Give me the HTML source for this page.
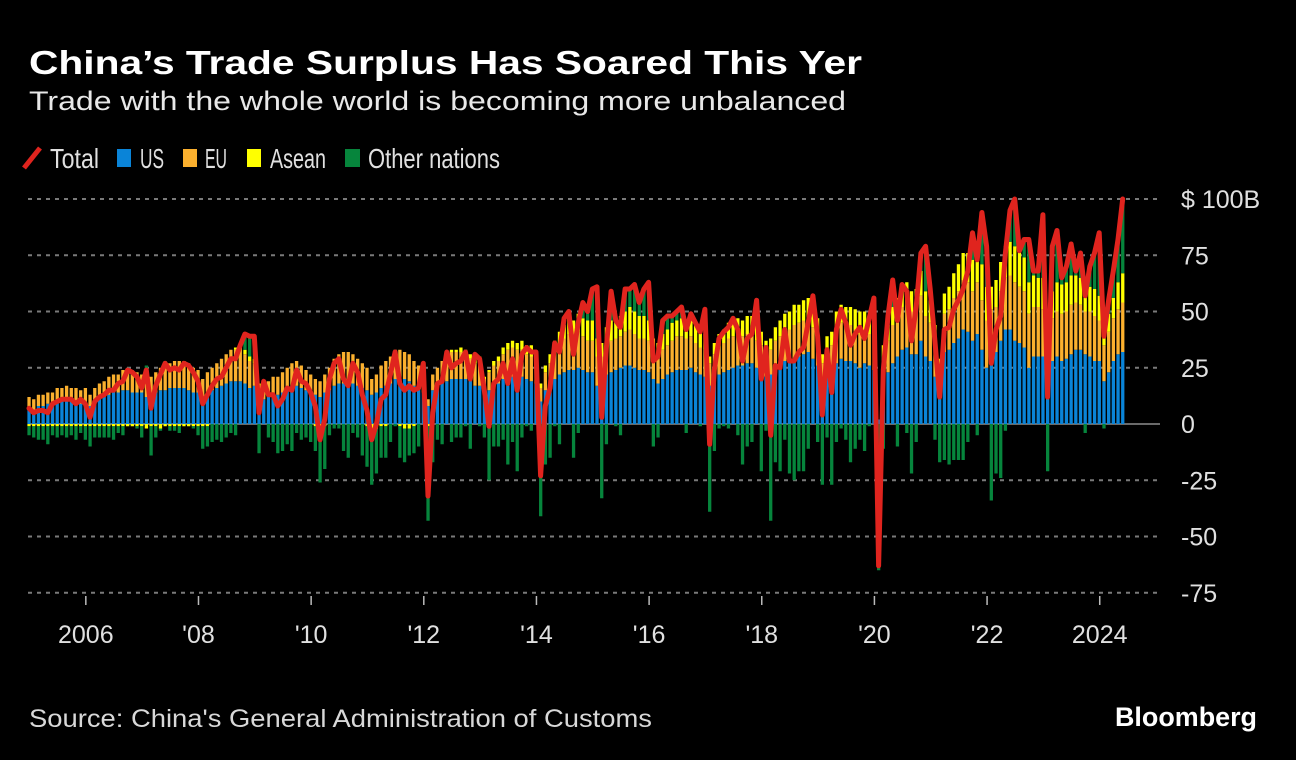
<!DOCTYPE html>
<html><head><meta charset="utf-8"><style>
html,body{margin:0;padding:0;background:#000;}
svg{display:block;font-family:"Liberation Sans",sans-serif;}
</style></head><body>
<svg id="chart" width="1296" height="760" viewBox="0 0 1296 760">
<rect x="0" y="0" width="1296" height="760" fill="#000"/>
<text x="29" y="74" fill="#fff" font-size="33" font-weight="bold" textLength="833" lengthAdjust="spacingAndGlyphs">China’s Trade Surplus Has Soared This Yer</text>
<text x="29" y="110" fill="#e8e8e8" font-size="27" textLength="817" lengthAdjust="spacingAndGlyphs">Trade with the whole world is becoming more unbalanced</text>
<g id="legend">
<g><line x1="24" y1="168" x2="40" y2="148" stroke="#e0241e" stroke-width="5"/><text x="50" y="168" fill="#e0e0e0" font-size="28" textLength="49" lengthAdjust="spacingAndGlyphs">Total</text></g>
<g><rect x="117" y="149" width="14" height="18" fill="#0a84d8"/><text x="140" y="168" fill="#e0e0e0" font-size="28" textLength="24" lengthAdjust="spacingAndGlyphs">US</text></g>
<g><rect x="183" y="149" width="14" height="18" fill="#fbb02e"/><text x="205" y="168" fill="#e0e0e0" font-size="28" textLength="22" lengthAdjust="spacingAndGlyphs">EU</text></g>
<g><rect x="247" y="149" width="14" height="18" fill="#ffff00"/><text x="270" y="168" fill="#e0e0e0" font-size="28" textLength="56" lengthAdjust="spacingAndGlyphs">Asean</text></g>
<g><rect x="345" y="149" width="15" height="18" fill="#06853c"/><text x="368" y="168" fill="#e0e0e0" font-size="28" textLength="132" lengthAdjust="spacingAndGlyphs">Other nations</text></g>
</g>
<g id="grid"></g>
<g id="bars"></g>
<g id="line"></g>
<g id="yaxis"></g>
<g id="xaxis"></g>
<text x="29" y="727" fill="#d8d8d8" font-size="25" textLength="623" lengthAdjust="spacingAndGlyphs">Source: China's General Administration of Customs</text>
<text x="1115" y="726" fill="#fff" font-size="27" font-weight="bold" textLength="142" lengthAdjust="spacingAndGlyphs">Bloomberg</text>
</svg>
<script>
var yTicks = [100, 75, 50, 25, 0, -25, -50, -75];
var yTickLabels = ["$ 100B", "75", "50", "25", "0", "-25", "-50", "-75"];
var xTickYears = [2006, 2008, 2010, 2012, 2014, 2016, 2018, 2020, 2022, 2024];
var xTickLabels = ["2006", "'08", "'10", "'12", "'14", "'16", "'18", "'20", "'22", "2024"];
var startYear = 2005;
var total = [
7,5,6,6,5,9,10,11,11,11,9,11,
9,3,10,12,13,15,15,18,19,24,23,21,
16,24,7,17,22,27,24,25,24,27,26,23,
19,9,13,17,20,21,25,29,29,35,40,39,
39,5,19,13,13,8,11,16,15,24,19,18,
14,8,-7,2,20,27,29,20,17,27,23,13,
6,-7,0,11,13,22,32,18,15,17,15,16,
27,-32,5,18,19,32,25,27,28,32,20,31,
29,15,-1,18,20,27,18,29,15,31,34,32,
32,-23,8,16,36,32,47,50,31,45,54,50,
60,61,3,34,59,46,43,60,60,62,54,60,
63,28,30,46,48,48,50,52,42,49,45,41,
51,-9,24,38,41,43,47,42,28,38,40,55,
20,34,-5,26,25,42,28,28,32,34,45,57,
39,4,33,14,42,51,45,35,40,43,38,47,
56,-63,24,48,64,46,62,59,37,52,76,79,
60,37,12,42,43,51,55,60,68,85,73,94,
79,27,42,48,76,95,100,77,82,82,68,68,
93,12,79,86,65,70,80,68,76,57,70,76,
85,39,55,68,82,100];
var us = [
7,6,8,8,9,9,10,10,11,10,10,9,
10,8,10,11,12,13,14,14,15,15,14,14,
14,12,13,14,15,15,16,16,16,16,15,14,
14,12,14,15,16,17,18,19,19,19,18,16,
17,11,11,12,13,13,14,15,17,17,16,15,
13,13,12,14,15,17,18,18,19,18,17,16,
15,13,14,16,17,18,20,20,20,19,17,16,
14,8,15,17,18,19,20,20,20,20,19,17,
17,13,15,17,18,20,21,21,21,21,20,19,
18,10,15,17,20,22,23,24,24,25,24,23,
23,17,20,22,23,24,25,26,26,25,24,24,
23,20,18,20,22,23,24,24,24,25,23,22,
21,17,20,22,23,24,25,26,26,27,27,25,
24,21,22,25,26,28,28,29,30,31,32,29,
26,17,21,22,27,29,28,28,27,25,27,26,
24,2,21,23,27,30,33,34,31,31,37,30,
28,21,11,32,33,36,38,42,41,37,40,33,
25,32,32,37,42,42,37,36,34,25,30,30,
30,11,28,30,28,29,31,33,33,31,30,28,
28,19,23,28,31,32];
var eu = [
5,5,5,5,5,5,6,6,6,6,6,6,
6,5,6,7,7,8,8,8,9,9,9,9,
8,7,8,9,10,10,11,12,12,12,12,11,
10,8,9,10,11,12,13,14,14,14,13,12,
10,6,7,7,8,8,9,10,10,11,10,9,
9,7,7,8,10,12,13,14,13,13,12,11,
10,7,8,10,11,12,13,13,12,12,11,10,
9,3,7,8,10,11,12,12,12,11,10,10,
10,7,8,9,10,11,12,13,12,12,11,11,
10,6,8,10,12,13,15,16,15,16,15,14,
14,13,10,13,14,14,14,15,16,15,14,14,
14,12,12,13,13,14,15,15,14,14,13,12,
12,10,11,12,13,14,14,14,13,13,13,12,
11,11,11,12,13,14,14,15,15,15,15,14,
13,10,12,13,15,16,16,16,15,15,14,14,
13,0,9,14,17,18,19,20,19,19,20,18,
17,15,12,17,18,20,21,22,22,22,23,22,
21,19,20,22,23,24,26,25,25,24,22,22,
21,15,19,20,21,21,22,21,20,19,20,20,
18,16,18,19,20,22];
var asean = [
-1,-1,-1,-1,-1,-1,-1,-1,-1,-1,-1,-1,
-1,-1,-1,-1,-1,-1,-1,-1,-1,-1,-1,-1,
-1,-2,-1,-1,-2,-1,-1,-1,-1,-1,-1,-1,
-1,-1,-1,0,0,0,0,0,1,1,2,2,
2,1,0,0,0,0,0,0,0,0,0,0,
0,-1,-1,-1,0,0,0,0,0,0,0,0,
-1,-2,-2,-1,-1,0,0,-1,-2,-2,-1,0,
0,-1,-1,0,0,1,1,1,2,2,2,2,
3,1,1,2,2,3,3,3,3,4,4,5,
4,2,3,4,5,6,6,7,7,8,8,9,
9,8,6,8,9,9,9,9,10,10,10,10,
9,6,6,7,7,8,7,8,8,8,8,8,
7,3,5,6,6,7,7,7,7,8,8,9,
6,5,5,6,7,7,8,9,8,9,9,9,
8,4,6,6,8,8,8,8,9,10,9,8,
7,0,5,7,8,8,8,9,9,10,11,11,
10,8,6,9,10,11,12,12,13,14,15,16,
15,10,12,13,14,15,16,16,15,14,14,13,
14,7,12,13,13,13,13,12,12,11,11,12,
11,6,8,9,12,13];

var NS = "http://www.w3.org/2000/svg";
var X0 = 29, MONTH_W = 4.694, Y0 = 424, UNIT = 2.25;
function xScale(i){ return X0 + i * MONTH_W; }
function yScale(v){ return Y0 - v * UNIT; }
function mk(tag, attrs, parent){ var e = document.createElementNS(NS, tag); for (var k in attrs) e.setAttribute(k, attrs[k]); parent.appendChild(e); return e; }

var grid = document.getElementById('grid');
var yaxis = document.getElementById('yaxis');
yTicks.forEach(function(t, i){
  var y = yScale(t);
  var ln = mk('line', {x1: 28, x2: 1160, y1: y, y2: y, stroke: t === 0 ? '#6a6a6a' : '#7a7a7a', 'stroke-width': 2, 'stroke-dasharray': t === 0 ? 'none' : '4 5'}, grid);
  
  
  var tx = mk('text', {x: 1181, y: y + 9, fill: '#e0e0e0', 'font-size': 25}, yaxis);
  tx.textContent = yTickLabels[i];
  
  
});
var xaxis = document.getElementById('xaxis');
xTickYears.forEach(function(yr, i){
  var x = xScale((yr - startYear) * 12) + 0.5;
  var tk = mk('line', {x1: x, x2: x, y1: 596, y2: 605, stroke: '#bbb', 'stroke-width': 1.5}, xaxis);
  
  
  var tx = mk('text', {x: x, y: 643, fill: '#e0e0e0', 'font-size': 25, 'text-anchor': 'middle'}, xaxis);
  tx.textContent = xTickLabels[i];
  
  
});

var bars = document.getElementById('bars');
var colors = {us: '#0a84d8', eu: '#fbb02e', asean: '#ffff00', other: '#06853c'};
for (var i = 0; i < total.length; i++) {
  var other = total[i] - us[i] - eu[i] - asean[i];
  var parts = [['us', us[i]], ['eu', eu[i]], ['asean', asean[i]], ['other', other]];
  var pos = 0, neg = 0;
  var bx = xScale(i) - 1.6;
  parts.forEach(function(p){
    var v = p[1]; if (v === 0) return;
    var y1, y2;
    if (v > 0) { y1 = yScale(pos + v); y2 = yScale(pos); pos += v; }
    else { y1 = yScale(neg); y2 = yScale(neg + v); neg += v; }
    var r = mk('rect', {x: bx, y: y1, width: 3.3, height: Math.max(0, y2 - y1), fill: colors[p[0]]}, bars);
    
    
  });
}
var pts = total.map(function(v, i){ return xScale(i).toFixed(1) + ',' + yScale(v).toFixed(1); }).join(' ');
var pl = mk('polyline', {points: pts, fill: 'none', stroke: '#e0241e', 'stroke-width': 5, 'stroke-linejoin': 'round', 'stroke-linecap': 'round'}, document.getElementById('line'));


</script>
</body></html>
